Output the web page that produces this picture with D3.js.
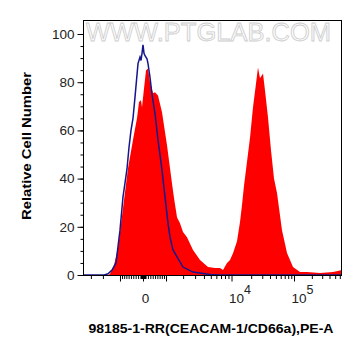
<!DOCTYPE html>
<html lang="en">
<head>
  <meta charset="UTF-8" />
  <title>98185-1-RR histogram</title>
  <script src="https://d3js.org/d3.v7.min.js"></script>
  <style>
    body { margin: 0; background: #fff; }
    svg { display: block; }
    .tick text { font-family: 'Liberation Sans', Arial, sans-serif; font-size: 13.5px; fill: #222; }
  </style>
</head>
<body>
  <div id="chart"></div>
  <script>
    // red filled histogram (sample), x in display channels, y in relative cell number
    const redChannels = [0, 24, 26, 30, 34, 39, 44, 50, 53, 55, 57, 58, 60, 62, 64, 66, 69, 71, 74, 78, 83, 88, 90, 93, 96, 99, 103, 109, 116, 124, 131, 136, 139, 143, 146, 149, 153, 156, 158, 160, 163, 166, 169, 172, 174, 176, 179, 181, 184, 187, 190, 193, 198, 203, 209, 216, 223, 236, 249, 257];
    const redCounts = [0, 0, 0.4, 4, 11.2, 27.7, 44.3, 58.4, 65, 71.8, 72.5, 69.6, 77.4, 84.9, 85.7, 79.9, 75.4, 75.8, 74.5, 67.5, 53.8, 38, 32, 24, 21.5, 17.8, 15.7, 10.4, 6.2, 3.3, 2.9, 2.9, 2.1, 5, 6.2, 9, 14, 22, 29, 37, 47, 57, 69.6, 79.5, 86.1, 81.6, 83.6, 76.6, 65.4, 51.8, 40, 34, 18.6, 9.1, 3.3, 1.2, 1.2, 0.8, 1.2, 2];

    // blue outline histogram (control)
    const blueChannels = [0, 20, 24, 28, 32, 36, 39, 43, 45, 47, 49, 51, 54, 56, 57, 58, 59, 60, 61, 63, 64, 66, 68, 71, 74, 78, 81, 84, 86, 89, 93, 99, 109, 126, 136, 257];
    const blueCounts = [0, 0, 0.5, 2, 5, 18.6, 32.4, 44, 53, 60, 65, 73.8, 87.7, 90.4, 89, 92, 95.5, 92, 91, 89.7, 87.7, 82, 75, 67, 56, 43.5, 32.4, 21.5, 15.7, 10.4, 7.5, 3.3, 1.2, 0.2, 0, 0];

    // axis ticks
    const yMajorTicks = [0, 20, 40, 60, 80, 100];
    const xMajorTicks = [-1000, 0, 1000, 10000, 100000];
    const xLabelValues = [0, 10000, 100000];
    const xLabelBase = ["0", "10", "10"];
    const xLabelExp = ["", "4", "5"];

    const width = 361, height = 356;
    const margin = { top: 20.5, right: 20, bottom: 81, left: 84 };

    const svg = d3.select("#chart").append("svg")
      .attr("width", width)
      .attr("height", height);

    const x = d3.scaleLinear().domain([0, 257]).range([84, 341]);
    const y = d3.scaleLinear().domain([0, 105.6]).range([275, 20.5]);

    // biexponential display transform: value -> channel
    const A = 241.4, B = 0.03969, L = 21.5, ZERO = 59;
    function toChannel(v) {
      const s = Math.sign(v), a = Math.abs(v);
      let lo = 0, hi = 400;
      for (let i = 0; i < 60; i++) {
        const mid = (lo + hi) / 2;
        if (A * 2 * Math.sinh(B * mid) + L * mid < a) lo = mid; else hi = mid;
      }
      return ZERO + s * (lo + hi) / 2;
    }

    // minor x ticks
    const xMinor = [];
    [-1, 1].forEach(sg => {
      for (let k = 1; k <= 9; k++) xMinor.push(sg * k * 10, sg * k * 100);
      for (let k = 2; k <= 9; k++) xMinor.push(sg * k * 1000, sg * k * 10000, sg * k * 100000);
    });
    const xMinorCh = xMinor.map(toChannel).filter(c => c >= 0 && c <= 257);

    // watermark
    svg.append("text")
      .attr("x", 86).attr("y", 41)
      .attr("textLength", 245)
      .attr("lengthAdjust", "spacingAndGlyphs")
      .attr("font-family", "'Liberation Sans', Arial, sans-serif")
      .attr("font-size", 25)
      .attr("fill", "#fbfbfb")
      .attr("stroke", "#cdcdcd")
      .attr("stroke-width", 0.8)
      .text("WWW.PTGLAB.COM");

    const area = d3.area()
      .x((d, i) => x(redChannels[i]))
      .y0(y(0))
      .y1(d => y(d));

    svg.append("path")
      .attr("d", area(redCounts))
      .attr("fill", "#ff0000");

    const line = d3.line()
      .x((d, i) => x(blueChannels[i]))
      .y(d => y(d));

    svg.append("path")
      .attr("d", line(blueCounts))
      .attr("fill", "none")
      .attr("stroke", "#16168c")
      .attr("stroke-width", 1.5);

    // frame
    svg.append("rect")
      .attr("x", 83.5).attr("y", 20.5)
      .attr("width", 258).attr("height", 255)
      .attr("fill", "none")
      .attr("stroke", "#000");

    // y axis
    svg.append("g")
      .attr("transform", "translate(83.5,0)")
      .call(d3.axisLeft(y).tickValues(d3.range(0, 101, 5)).tickSize(3).tickFormat(""))
      .call(g => g.select(".domain").remove());
    svg.append("g")
      .attr("transform", "translate(83.5,0)")
      .call(d3.axisLeft(y).tickValues(yMajorTicks).tickSize(6).tickPadding(3))
      .call(g => g.select(".domain").remove());

    // x axis
    svg.append("g")
      .attr("transform", "translate(0,275.5)")
      .call(d3.axisBottom(x).tickValues(xMinorCh).tickSize(3.5).tickFormat(""))
      .call(g => g.select(".domain").remove());
    svg.append("g")
      .attr("transform", "translate(0,275.5)")
      .call(d3.axisBottom(x).tickValues(xMajorTicks.map(toChannel)).tickSize(6).tickFormat(""))
      .call(g => g.select(".domain").remove());

    const lab = svg.append("g")
      .attr("font-family", "'Liberation Sans', Arial, sans-serif")
      .attr("fill", "#222");
    xLabelValues.forEach((v, i) => {
      const px = x(toChannel(v));
      if (xLabelExp[i] === "") {
        lab.append("text").attr("x", px + 2.5).attr("y", 303)
          .attr("text-anchor", "middle").attr("font-size", 13.5).text(xLabelBase[i]);
      } else {
        const t = lab.append("text").attr("x", px - 2.5).attr("y", 303).attr("font-size", 13.5);
        t.append("tspan").text(xLabelBase[i]);
        t.append("tspan").attr("dy", -9).attr("font-size", 12.5).text(xLabelExp[i]);
      }
    });

    // axis titles
    svg.append("text")
      .attr("x", 211).attr("y", 333)
      .attr("text-anchor", "middle")
      .attr("font-family", "'Liberation Sans', Arial, sans-serif")
      .attr("font-weight", "bold")
      .attr("font-size", 12.5)
      .attr("textLength", 245)
      .attr("lengthAdjust", "spacingAndGlyphs")
      .text("98185-1-RR(CEACAM-1/CD66a),PE-A");

    svg.append("text")
      .attr("transform", "translate(31,146) rotate(-90)")
      .attr("text-anchor", "middle")
      .attr("font-family", "'Liberation Sans', Arial, sans-serif")
      .attr("font-weight", "bold")
      .attr("font-size", 12.5)
      .attr("textLength", 148)
      .attr("lengthAdjust", "spacingAndGlyphs")
      .text("Relative Cell Number");
  </script>
</body>
</html>
